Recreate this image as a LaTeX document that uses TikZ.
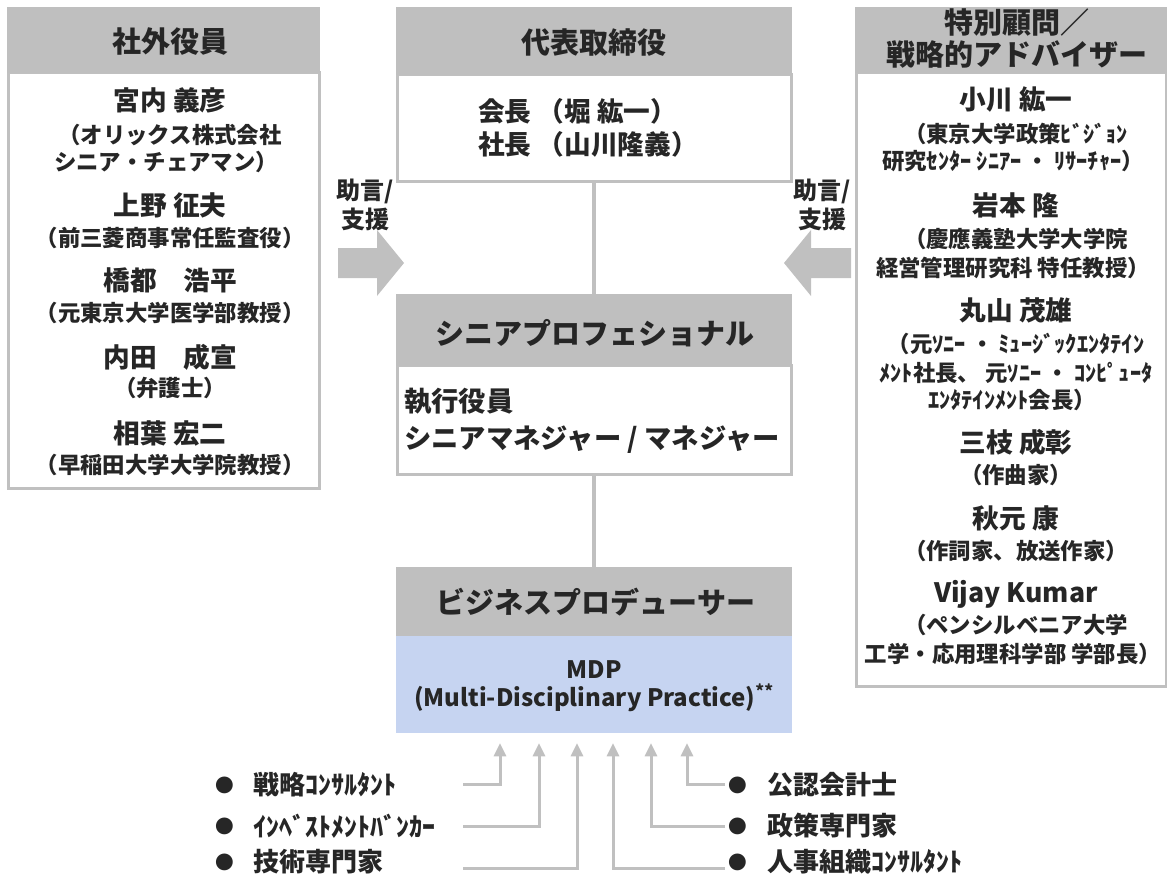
\documentclass[tikz,border=0pt]{standalone}
\usepackage{fontspec}
\setmainfont{Noto Sans CJK JP}
\usetikzlibrary{arrows.meta,calc}
\definecolor{hdrgray}{HTML}{BFBFBF}
\definecolor{linegray}{HTML}{C0C0C0}
\definecolor{mdpblue}{HTML}{C6D4F1}
\definecolor{txt}{HTML}{262626}
\begin{document}
\begin{tikzpicture}[x=0.75pt,y=-0.75pt,
  hdr/.style={fill=hdrgray,draw=hdrgray,line width=1.5pt,inner sep=0pt},
  bodybox/.style={fill=white,draw=linegray,line width=2.25pt,inner sep=0pt},
  hdrtext/.style={text=txt,inner sep=0pt,font=\bfseries\fontsize{21.75}{26}\selectfont},
  nm/.style={text=txt,inner sep=0pt,font=\bfseries\fontsize{20}{24}\selectfont},
  sb/.style={text=txt,inner sep=0pt,font=\bfseries\fontsize{16.8}{20}\selectfont},
  conn/.style={draw=linegray,line width=3pt},
  arr/.style={draw=linegray,line width=2.25pt,-{Triangle[length=10pt,width=9pt]}},
  blk/.style={fill=linegray},
  lst/.style={text=txt,inner sep=0pt,font=\bfseries\fontsize{19.5}{22}\selectfont},
  bul/.style={text=txt,inner sep=0pt,font=\fontsize{14}{16}\selectfont},
  adv/.style={text=txt,inner sep=0pt,align=center,font=\bfseries\fontsize{18}{21.75}\selectfont}
]
\useasboundingbox (0,0) rectangle (1167,875);

% ---------- left box ----------
\node[bodybox,minimum width=311*0.75pt,minimum height=416*0.75pt] (lb) at (163.5,280) {};
\node[hdr,minimum width=311*0.75pt,minimum height=64*0.75pt] (lh) at (163.5,40) {};
\node[hdrtext] (lht) at (170,42) {社外役員};
\node[nm] (l1) at (170,100) {宮内 義彦};
\node[sb] (l2) at (170,135) {（オリックス株式会社};
\node[sb] (l3) at (166,162) {シニア・チェアマン）};
\node[nm] (l4) at (170,205) {上野 征夫};
\node[sb] (l5) at (170,238) {（前三菱商事常任監査役）};
\node[nm] (l6) at (170,280) {橋都　浩平};
\node[sb] (l7) at (170,313) {（元東京大学医学部教授）};
\node[nm] (l8) at (170,357) {内田　成宣};
\node[sb] (l9) at (170,388) {（弁護士）};
\node[nm] (l10) at (170,433) {相葉 宏二};
\node[sb] (l11) at (170,465) {（早稲田大学大学院教授）};

% ---------- top center box ----------
\node[bodybox,minimum width=394*0.75pt,minimum height=107*0.75pt] (tb) at (594,127.5) {};
\node[hdr,minimum width=394*0.75pt,minimum height=66*0.75pt] (th) at (594,41) {};
\node[hdrtext] (tht) at (594,43) {代表取締役};
\node[text=txt,inner sep=0pt,anchor=west,align=left,font=\bfseries\fontsize{20}{24.75}\selectfont] (ceo) at (478,128) {会長 （堀 紘一）\\社長 （山川隆義）};

% ---------- senior professional box ----------
\node[bodybox,minimum width=394*0.75pt,minimum height=109*0.75pt] (sb) at (594,419.5) {};
\node[hdr,minimum width=394*0.75pt,minimum height=70*0.75pt] (sh) at (594,330) {};
\node[hdrtext] (sht) at (595,333) {シニアプロフェショナル};
\node[text=txt,inner sep=0pt,anchor=west,align=left,font=\bfseries\fontsize{20.5}{27.75}\selectfont] (sct) at (404,421) {執行役員\\シニアマネジャー / マネジャー};

% ---------- business producer box ----------
\node[fill=mdpblue,draw=mdpblue,line width=1.5pt,inner sep=0pt,minimum width=394*0.75pt,minimum height=97*0.75pt] (mdp) at (594,683.5) {};
\node[hdr,minimum width=394*0.75pt,minimum height=67*0.75pt] (bh) at (594,601.5) {};
\node[hdrtext] (bht) at (596,602) {ビジネスプロデューサー};
\node[text=txt,inner sep=0pt,align=center,font=\bfseries\fontsize{18}{21}\selectfont] (mdpt) at (594,686) {MDP\\(Multi-Disciplinary Practice)\textsuperscript{**}};

% ---------- right box ----------
\node[bodybox,minimum width=310*0.75pt,minimum height=614*0.75pt] (rb) at (1011,379) {};
\node[hdr,minimum width=310*0.75pt,minimum height=64*0.75pt] (rh) at (1011,40) {};
\node[hdrtext,align=center,font=\bfseries\fontsize{21.75}{24}\selectfont] (rht) at (1017,39) {特別顧問／\\戦略的アドバイザー};
\node[nm] (r1) at (1016,100) {小川 紘一};
\node[sb] (r2) at (1016,134) {（東京大学政策ﾋﾞｼﾞｮﾝ};
\node[sb] (r3) at (1013,161) {研究ｾﾝﾀｰ ｼﾆｱｰ ・ ﾘｻｰﾁｬｰ）};
\node[nm] (r4) at (1016,205) {岩本 隆};
\node[sb] (r5) at (1016,239) {（慶應義塾大学大学院};
\node[sb] (r6) at (1013,268) {経営管理研究科 特任教授）};
\node[nm] (r7) at (1016,310) {丸山 茂雄};
\node[sb] (r8) at (1016,344) {（元ｿﾆｰ ・ ﾐｭｰｼﾞｯｸｴﾝﾀﾃｲﾝ};
\node[sb] (r9) at (1016,373) {ﾒﾝﾄ社長、 元ｿﾆｰ ・ ｺﾝﾋﾟｭｰﾀ};
\node[sb] (r10) at (1012,400) {ｴﾝﾀﾃｲﾝﾒﾝﾄ会長）};
\node[nm] (r11) at (1016,442) {三枝 成彰};
\node[sb] (r12) at (1016,475) {（作曲家）};
\node[nm] (r13) at (1016,518) {秋元 康};
\node[sb] (r14) at (1016,551) {（作詞家、放送作家）};
\node[nm] (r15) at (1016,594) {Vijay Kumar};
\node[sb] (r16) at (1016,625) {（ペンシルベニア大学};
\node[sb] (r17) at (1013,654) {工学・応用理科学部 学部長）};

% ---------- vertical connectors ----------
\draw[conn] (tb.south) -- (sh.north);
\draw[conn] (sb.south) -- (bh.north);

% ---------- advice arrows ----------
\node[adv] (advl) at (365,205) {助言/\\支援};
\node[adv] (advr) at (822,205) {助言/\\支援};
\fill[blk] (338,248) -- (377,248) -- (377,230) -- (404,263) -- (377,296) -- (377,278) -- (338,278) -- cycle;
\fill[blk] (851,248) -- (811,248) -- (811,230) -- (784,263) -- (811,296) -- (811,278) -- (851,278) -- cycle;

% ---------- bottom lists ----------
\node[bul] (bl1) at (225,785) {●};
\node[bul] (bl2) at (225,826) {●};
\node[bul] (bl3) at (225,862) {●};
\node[lst,anchor=west] (tl1) at (253,785) {戦略ｺﾝｻﾙﾀﾝﾄ};
\node[lst,anchor=west] (tl2) at (253,826) {ｲﾝﾍﾞｽﾄﾒﾝﾄﾊﾞﾝｶｰ};
\node[lst,anchor=west] (tl3) at (253,862) {技術専門家};
\node[bul] (br1) at (738,785) {●};
\node[bul] (br2) at (738,826) {●};
\node[bul] (br3) at (738,862) {●};
\node[lst,anchor=west] (tr1) at (767,785) {公認会計士};
\node[lst,anchor=west] (tr2) at (767,826) {政策専門家};
\node[lst,anchor=west] (tr3) at (767,862) {人事組織ｺﾝｻﾙﾀﾝﾄ};

\coordinate (sl1) at (463,784);
\coordinate (sl2) at (463,826);
\coordinate (sl3) at (463,868);
\coordinate (sr1) at (725,784);
\coordinate (sr2) at (725,826);
\coordinate (sr3) at (725,868);
\draw[arr] (sl1) -| ($(mdp.south)+(-94,10)$);
\draw[arr] (sl2) -| ($(mdp.south)+(-55,10)$);
\draw[arr] (sl3) -| ($(mdp.south)+(-17,10)$);
\draw[arr] (sr3) -| ($(mdp.south)+(19,10)$);
\draw[arr] (sr2) -| ($(mdp.south)+(57,10)$);
\draw[arr] (sr1) -| ($(mdp.south)+(93,10)$);
\end{tikzpicture}
\end{document}
